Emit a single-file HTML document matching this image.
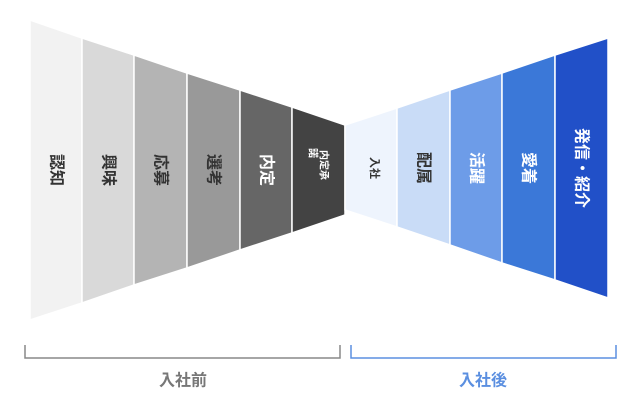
<!DOCTYPE html>
<html><head><meta charset="utf-8"><style>
html,body{margin:0;padding:0;background:#fff;}
svg{display:block;}
text{font-family:"Liberation Sans","Noto Sans CJK JP",sans-serif;font-weight:bold;}
</style></head><body>
<svg width="640" height="407" viewBox="0 0 640 407" xmlns="http://www.w3.org/2000/svg">
<g stroke="#fff" stroke-width="1.5">
<polygon points="30,20 82,38 82,303 30,320" fill="#f2f2f2"/>
<polygon points="82,38 134,55 134,285 82,303" fill="#d9d9d9"/>
<polygon points="134,55 187,73 187,268 134,285" fill="#b4b4b4"/>
<polygon points="187,73 240,90 240,250 187,268" fill="#999"/>
<polygon points="240,90 292,107 292,233 240,250" fill="#666"/>
<polygon points="292,107 345,125 345,215 292,233" fill="#434343"/>
<polygon points="345,125 397,108 397,227 345,210" fill="#eef4fd"/>
<polygon points="397,108 450,90 450,245 397,227" fill="#c9dcf7"/>
<polygon points="450,90 502,73 502,263 450,245" fill="#6d9ce8"/>
<polygon points="502,73 555,55 555,280 502,263" fill="#3b78d8"/>
<polygon points="555,55 608,38 608,298 555,280" fill="#2150c8"/>
</g>
<g font-size="16" text-anchor="middle" dominant-baseline="central">
<text transform="translate(56,170) rotate(90)" fill="#333">認知</text>
<text transform="translate(108,170) rotate(90)" fill="#333">興味</text>
<text transform="translate(160,170) rotate(90)" fill="#333">応募</text>
<text transform="translate(213,170) rotate(90)" fill="#333">選考</text>
<text transform="translate(266,170) rotate(90)" fill="#fff">内定</text>
<text transform="translate(323,165) rotate(90)" fill="#fff" font-size="10">内定承</text>
<text transform="translate(312,153) rotate(90)" fill="#fff" font-size="10">諾</text>
<text transform="translate(374,168) rotate(90)" fill="#333" font-size="11">入社</text>
<text transform="translate(423,168) rotate(90)" fill="#333">配属</text>
<text transform="translate(476,168) rotate(90)" fill="#fff">活躍</text>
<text transform="translate(528,168) rotate(90)" fill="#fff">愛着</text>
<text transform="translate(581,168) rotate(90)" fill="#fff">発信・紹介</text>
</g>
<polyline points="25,345 25,358 340,358 340,345" fill="none" stroke="#888" stroke-width="1.5"/>
<polyline points="351,345 351,358 616,358 616,345" fill="none" stroke="#5b8fe0" stroke-width="1.5"/>
<text x="183" y="381" font-size="16" fill="#777" text-anchor="middle" dominant-baseline="central">入社前</text>
<text x="483" y="381" font-size="16" fill="#5b8fe0" text-anchor="middle" dominant-baseline="central">入社後</text>
</svg>
</body></html>
